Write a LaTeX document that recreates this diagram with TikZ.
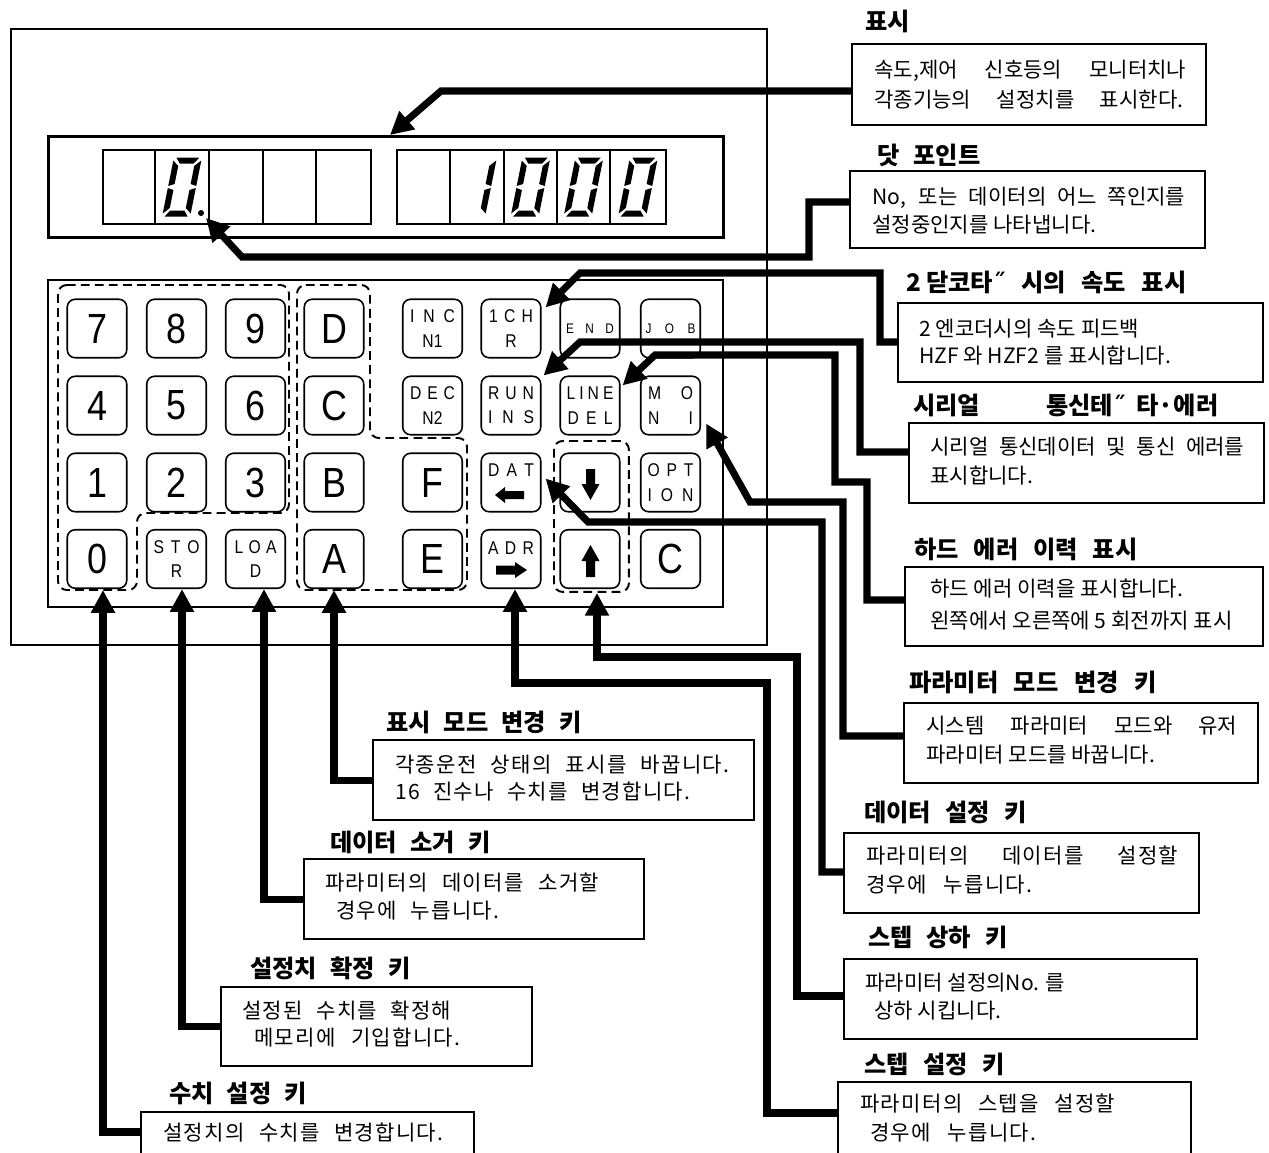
\documentclass[tikz,border=0pt]{standalone}
\usepackage{fontspec}
\setmainfont{Noto Sans CJK KR}
\newfontfamily\krls{Noto Sans CJK KR}[LetterSpace=6]
\newfontfamily\keyfont{Liberation Sans}[FakeStretch=0.85]
\newfontfamily\dvs{DejaVu Sans}
\usetikzlibrary{arrows.meta,calc}
\newlength\px \setlength\px{0.02cm}
\newcommand\bodysz{\fontsize{12pt}{14pt}\selectfont}
\newcommand\hdrsz{\fontsize{13.8pt}{16pt}\selectfont\bfseries}
\newcommand\bigk{\keyfont\fontsize{24pt}{24pt}\selectfont}
\newcommand\smk{\keyfont\fontsize{10.5pt}{13.9pt}\selectfont}
\newcommand\tinyk{\keyfont\fontsize{7.9pt}{9pt}\selectfont}
\newcommand\digitzero[2]{%
  \begin{scope}[shift={(#1,#2)},xslant=0.2]
    \fill (-11.5,-29.5) -- (11.5,-29.5) -- (7,-23.5) -- (-7,-23.5) -- cycle;
    \fill (-11.5,29.5) -- (11.5,29.5) -- (7,23.5) -- (-7,23.5) -- cycle;
    \fill (-14,-26.5) -- (-8,-21) -- (-8,-3) -- (-14,-1) -- cycle;
    \fill (14,-26.5) -- (8,-21) -- (8,-3) -- (14,-1) -- cycle;
    \fill (-14,1) -- (-8,3) -- (-8,21) -- (-14,26.5) -- cycle;
    \fill (14,1) -- (8,3) -- (8,21) -- (14,26.5) -- cycle;
  \end{scope}}
\newcommand\digitone[2]{%
  \begin{scope}[shift={(#1,#2)},xslant=0.2]
    \fill (14,-26.5) -- (8,-21) -- (8,-3) -- (14,-1) -- cycle;
    \fill (14,1) -- (8,3) -- (8,21) -- (14,26.5) -- cycle;
  \end{scope}}
\begin{document}
\begin{tikzpicture}[x=0.02cm,y=-0.02cm,
  box/.style={draw,line width=1.4pt,inner sep=0,anchor=north west},
  key/.style={draw,line width=0.9pt,rounded corners=4.5pt,minimum width=1.19cm,minimum height=1.17cm,inner sep=0},
  txt/.style={anchor=west,inner sep=0,font=\bodysz},
  hdr/.style={anchor=west,inner sep=0,font=\hdrsz},
  dashgrp/.style={dash pattern=on 5pt off 3pt,line width=1.1pt,rounded corners=5pt},
  conn/.style={line width=4pt,line join=miter,-{Triangle[length=13pt,width=13pt]}}]
\useasboundingbox (0,0) rectangle (1269,1153);
\clip (0,0) rectangle (1269,1153);
\fill[white] (0,0) rectangle (1269,1153);

% panel, display, keypad
\node[box,line width=1.2pt,minimum width=15.12cm,minimum height=12.32cm] (panel) at (10,28) {};
\node[box,line width=1.6pt,minimum width=13.5cm,minimum height=2.02cm] (disp) at (47,135) {};
\node[box,line width=1.2pt,minimum width=13.5cm,minimum height=6.54cm] (pad) at (47,279) {};

% display cells
\draw[line width=0.6pt] (103,150) rectangle (371,224);
\foreach \xx in {155,209,263,316} \draw[line width=0.6pt] (\xx,150) -- (\xx,224);
\draw[line width=0.6pt] (397,150) rectangle (666,224);
\foreach \xx in {450,504,557,610} \draw[line width=0.6pt] (\xx,150) -- (\xx,224);
\digitzero{182}{187}
\fill (201,213) circle[radius=1.7pt];
\digitone{477}{187}
\digitzero{530.5}{187}
\digitzero{583.5}{187}
\digitzero{638}{187}
\coordinate (dpt) at (206,218);

% keys row 1
\node[key,font=\bigk] (k7) at (97,328.5) {7};
\node[key,font=\bigk] (k8) at (176.5,328.5) {8};
\node[key,font=\bigk] (k9) at (255.5,328.5) {9};
\node[key,font=\bigk] (kD) at (334,328.5) {D};
\node[key,font=\smk,align=center] (kINC) at (432.5,328.5) {\makebox[45\px][s]{I N C}\\N1};
\node[key,font=\smk,align=center] (k1CH) at (511,328.5) {\makebox[44\px][s]{1 C H}\\R};
\node[key,font=\tinyk] (kEND) at (590,328.5) {\makebox[48\px][s]{E N D}};
\node[key,font=\tinyk] (kJOB) at (670.5,328.5) {\makebox[50\px][s]{J O B}};
% row 2
\node[key,font=\bigk] (k4) at (97,405.5) {4};
\node[key,font=\bigk] (k5) at (176.5,405.5) {5};
\node[key,font=\bigk] (k6) at (255.5,405.5) {6};
\node[key,font=\bigk] (kC) at (334,405.5) {C};
\node[key,font=\smk,align=center] (kDEC) at (432.5,405.5) {\makebox[45\px][s]{D E C}\\N2};
\node[key,font=\smk,align=center] (kRUN) at (511,405.5) {\makebox[46\px][s]{R U N}\\\makebox[46\px][s]{I N S}};
\node[key,font=\smk,align=center] (kLINE) at (590,405.5) {\makebox[47\px][s]{L I N E}\\\makebox[45\px][s]{D E L}};
\node[key,font=\smk,align=center] (kMONI) at (670.5,405.5) {\makebox[45\px][s]{M O}\\\makebox[45\px][s]{N I}};
% row 3
\node[key,font=\bigk] (k1) at (97,482.5) {1};
\node[key,font=\bigk] (k2) at (176.5,482.5) {2};
\node[key,font=\bigk] (k3) at (255.5,482.5) {3};
\node[key,font=\bigk] (kB) at (334,482.5) {B};
\node[key,font=\bigk] (kF) at (432.5,482.5) {F};
\node[key] (kDAT) at (511,482.5) {};
\node[inner sep=0,font=\smk] (lDAT) at (511,470) {\makebox[46\px][s]{D A T}};
\fill (495,495) -- (505,487) -- (505,491) -- (524,491) -- (524,499) -- (505,499) -- (505,503) -- cycle;
\node[key] (kDN) at (590,482.5) {};
\fill (590.5,500) -- (581.5,484) -- (586,484) -- (586,469) -- (595,469) -- (595,484) -- (599.5,484) -- cycle;
\node[key,font=\smk,align=center] (kOPT) at (670.5,482.5) {\makebox[46\px][s]{O P T}\\\makebox[46\px][s]{I O N}};
% row 4
\node[key,font=\bigk] (k0) at (97,559) {0};
\node[key,font=\smk,align=center] (kSTO) at (176.5,559) {\makebox[46\px][s]{S T O}\\R};
\node[key,font=\smk,align=center] (kLOA) at (255.5,559) {\makebox[42\px][s]{L O A}\\D};
\node[key,font=\bigk] (kA) at (334,559) {A};
\node[key,font=\bigk] (kE) at (432.5,559) {E};
\node[key] (kADR) at (511,559) {};
\node[inner sep=0,font=\smk] (lADR) at (511,548) {\makebox[46\px][s]{A D R}};
\fill (527,570) -- (515,562) -- (515,565.5) -- (496,565.5) -- (496,574.5) -- (515,574.5) -- (515,578) -- cycle;
\node[key] (kUP) at (590,559) {};
\fill (590.5,545) -- (581.5,561) -- (586,561) -- (586,577) -- (595,577) -- (595,561) -- (599.5,561) -- cycle;
\node[key,font=\bigk] (kC2) at (670.5,559) {C};

% dashed groups
\draw[dashgrp] (58,285) -- (289,285) -- (289,513) -- (137,513) -- (137,590) -- (58,590) -- cycle;
\draw[dashgrp] (297,285) -- (370,285) -- (370,438) -- (467,438) -- (467,590) -- (297,590) -- cycle;
\node[draw,dashgrp,anchor=north west,inner sep=0,minimum width=1.5cm,minimum height=3.02cm] (gUD) at (553,440) {};
\coordinate (gNb) at (103,590);
\coordinate (gAFb) at (334,590);

% annotation boxes
\node[box,minimum width=7.08cm,minimum height=1.62cm] (b1) at (851,43) {};
\node[box,minimum width=7.10cm,minimum height=1.54cm] (b2) at (849,170) {};
\node[box,minimum width=7.30cm,minimum height=1.58cm] (b3) at (897,302) {};
\node[box,minimum width=7.10cm,minimum height=1.60cm] (b4) at (908,422) {};
\node[box,minimum width=7.16cm,minimum height=1.58cm] (b5) at (904,566) {};
\node[box,minimum width=7.08cm,minimum height=1.60cm] (b6) at (903,702) {};
\node[box,minimum width=7.10cm,minimum height=1.60cm] (b7) at (843,832) {};
\node[box,minimum width=7.06cm,minimum height=1.60cm] (b8) at (843,958) {};
\node[box,minimum width=7.06cm,minimum height=1.60cm] (b9) at (837,1081) {};
\node[box,minimum width=7.62cm,minimum height=1.60cm] (ba) at (372,739) {};
\node[box,minimum width=6.80cm,minimum height=1.60cm] (bb) at (303,858) {};
\node[box,minimum width=6.22cm,minimum height=1.58cm] (bc) at (220,986) {};
\node[box,minimum width=6.66cm,minimum height=1.20cm] (bd) at (140,1111) {};

% headers
\node[hdr] (h1) at (865,21) {표시};
\node[hdr] (h2) at (877,155) {\makebox[103\px][s]{닷 포인트}};
\node[hdr] (h3) at (906,282) {\makebox[280\px][s]{2\hspace{3pt}닫코타{\dvs ˝} 시의 속도 표시}};
\node[hdr] (h4a) at (913,405) {시리얼};
\node[hdr] (h4b) at (1046,405) {\makebox[172\px][s]{통신테{\dvs ˝} 타·에러}};
\node[hdr] (h5) at (914,549) {\makebox[223\px][s]{하드 에러 이력 표시}};
\node[hdr] (h6) at (909,682) {\makebox[247\px][s]{파라미터 모드 변경 키}};
\node[hdr] (h7) at (864,812) {\makebox[162\px][s]{데이터 설정 키}};
\node[hdr] (h8) at (868,937) {\makebox[139\px][s]{스텝 상하 키}};
\node[hdr] (h9) at (864,1064) {\makebox[140\px][s]{스텝 설정 키}};
\node[hdr] (ha) at (386,722) {\makebox[195\px][s]{표시 모드 변경 키}};
\node[hdr] (hb) at (330,842) {\makebox[160\px][s]{데이터 소거 키}};
\node[hdr] (hc) at (250,968) {\makebox[160\px][s]{설정치 확정 키}};
\node[hdr] (hd) at (169,1093) {\makebox[137\px][s]{수치 설정 키}};

% body texts
\node[txt] (t1a) at (874,71) {\makebox[312\px][s]{속도,제어 신호등의 모니터치나}};
\node[txt] (t1b) at (874,100) {\makebox[309\px][s]{각종기능의 설정치를 표시한다.}};
\node[txt] (t2a) at (872,198) {\makebox[313\px][s]{No, 또는 데이터의 어느 쪽인지를}};
\node[txt] (t2b) at (872,225) {설정중인지를 나타냅니다.};
\node[txt] (t3a) at (919,329) {2 엔코더시의 속도 피드백};
\node[txt] (t3b) at (919,356) {HZF 와 HZF2 를 표시합니다.};
\node[txt] (t4a) at (930,447) {\makebox[314\px][s]{시리얼 통신데이터 및 통신 에러를}};
\node[txt] (t4b) at (930,476) {표시합니다.};
\node[txt] (t5a) at (930,589) {하드 에러 이력을 표시합니다.};
\node[txt] (t5b) at (930,621) {왼쪽에서 오른쪽에 5 회전까지 표시};
\node[txt] (t6a) at (926,726) {\makebox[311\px][s]{시스템 파라미터 모드와 유저}};
\node[txt] (t6b) at (926,755) {파라미터 모드를 바꿉니다.};
\node[txt] (t7a) at (866,856) {\krls\makebox[312\px][s]{파라미터의 데이터를 설정할}};
\node[txt] (t7b) at (866,885) {\krls\makebox[166\px][s]{경우에 누릅니다.}};
\node[txt] (t8a) at (865,983) {파라미터 설정의No. 를};
\node[txt] (t8b) at (874,1011) {상하 시킵니다.};
\node[txt] (t9a) at (860,1104) {\krls\makebox[255\px][s]{파라미터의 스텝을 설정할}};
\node[txt] (t9b) at (870,1133) {\krls\makebox[166\px][s]{경우에 누릅니다.}};
\node[txt] (taa) at (395,765) {\krls\makebox[334\px][s]{각종운전 상태의 표시를 바꿉니다.}};
\node[txt] (tab) at (395,792) {\krls\makebox[295\px][s]{16 진수나 수치를 변경합니다.}};
\node[txt] (tba) at (325,883) {\krls\makebox[274\px][s]{파라미터의 데이터를 소거할}};
\node[txt] (tbb) at (336,911) {\krls\makebox[163\px][s]{경우에 누릅니다.}};
\node[txt] (tca) at (242,1011) {\krls\makebox[209\px][s]{설정된 수치를 확정해}};
\node[txt] (tcb) at (254,1038) {\krls\makebox[206\px][s]{메모리에 기입합니다.}};
\node[txt] (tda) at (163,1133) {\krls\makebox[280\px][s]{설정치의 수치를 변경합니다.}};

% connectors
\draw[conn] (b1.west |- 0,91) -- (441,91) -- (disp.north -| 390,0);
\draw[conn] (b2.west |- 0,202) -- (809,202) -- (809,257) -- (242,257) -- (dpt);
\draw[conn] (b3.west |- 0,342) -- (880,342) -- (880,273) -- (580,273) -- ($(k1CH.north east)+(4,9)$);
\draw[conn] (b4.west |- 0,452) -- (860,452) -- (860,342) -- (580,342) -- ($(kRUN.north east)+(2,0)$);
\draw[conn] (b5.west |- 0,600) -- (867,600) -- (867,482) -- (835,482) -- (835,355) -- (655,355) -- ($(kLINE.north east)+(2,10)$);
\draw[conn] (b6.west |- 0,736) -- (843,736) -- (843,502) -- (750,502) -- ($(kMONI.south east)+(5,-12)$);
\draw[conn] (b7.west |- 0,872) -- (822,872) -- (822,522) -- (588,522) -- ($(kDAT.east)+(4,-4)$);
\draw[conn] (b8.west |- 0,996) -- (797,996) -- (797,657) -- (597,657) -- (597,0 |- gUD.south);
\draw[conn] (b9.west |- 0,1113) -- (767,1113) -- (767,683) -- (515,683) -- (515,0 |- kADR.south);
\draw[conn] (ba.west) -- (ba.west -| 334,0) -- (gAFb);
\draw[conn] (bb.west) -- (bb.west -| 264,0) -- (264,0 |- kLOA.south);
\draw[conn] (bc.west) -- (bc.west -| 182,0) -- (182,0 |- kSTO.south);
\draw[conn] (bd.west |- 0,1132) -- (103,1132) -- (gNb);
\end{tikzpicture}
\end{document}
